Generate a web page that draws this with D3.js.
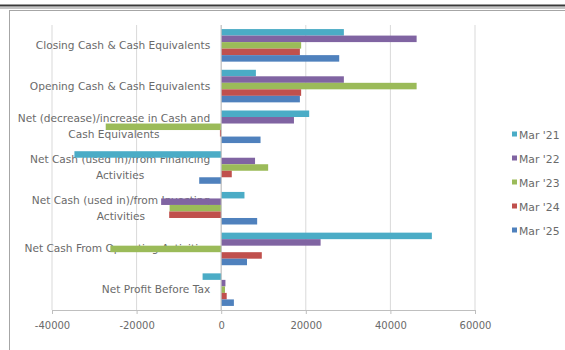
<!DOCTYPE html>
<html>
<head>
<meta charset="utf-8">
<script src="https://cdn.jsdelivr.net/npm/d3@7"></script>
<style>
  body { margin: 0; background: #fff; }
  text { font-family: "DejaVu Sans", "Liberation Sans", Arial, sans-serif; }
</style>
</head>
<body>
<svg id="chart"></svg>
<script>
// categories, top to bottom as drawn
var categories = [
  'Closing Cash & Cash Equivalents',
  'Opening Cash & Cash Equivalents',
  'Net (decrease)/increase in Cash and|Cash Equivalents',
  'Net Cash (used in)/from Financing|Activities',
  'Net Cash (used in)/from Investing|Activities',
  'Net Cash From Operating Activities',
  'Net Profit Before Tax'
]
var seriesNames = ["Mar '21", "Mar '22", "Mar '23", "Mar '24", "Mar '25"]
var seriesColors = ['#4bacc6', '#8064a2', '#9bbb59', '#c0504d', '#4f81bd']

// values per series, same order as categories
var mar21 = [29000, 8200, 20800, -34700, 5500, 49800, -4400]
var mar22 = [46200, 29000, 17200, 8000, -14200, 23500, 1000]
var mar23 = [18900, 46200, -27300, 11100, -12200, -26200, 900]
var mar24 = [18600, 18900, -300, 2500, -12300, 9600, 1300]
var mar25 = [27900, 18600, 9300, -5200, 8500, 6100, 3000]
var seriesValues = [mar21, mar22, mar23, mar24, mar25]

var xTicks = [-40000, -20000, 0, 20000, 40000, 60000]

var W = 565, H = 350
var margin = {top: 25, right: 90, bottom: 40, left: 52},
   width = 475 - margin.left,
   height = 310 - margin.top

var svg = d3.select('#chart').attr('width', W).attr('height', H)

// sheet line + chart frame
svg.append('line').attr('x1', 0).attr('x2', W).attr('y1', 5.5).attr('y2', 5.5)
  .attr('stroke', '#3a3a3a').attr('stroke-width', 2)
svg.append('line').attr('x1', 0).attr('x2', W).attr('y1', 8).attr('y2', 8)
  .attr('stroke', '#c4c4c4').attr('stroke-width', 2)
svg.append('rect').attr('x', 9.5).attr('y', 10.5).attr('width', 560).attr('height', 350)
  .attr('fill', '#fff').attr('stroke', '#a6a6a6')

var g = svg.append('g').attr('transform', 'translate(' + margin.left + ',' + margin.top + ')')

var x = d3.scaleLinear().domain([-40000, 60000]).range([0, width])

var y0 = d3.scaleBand().domain(categories).range([0, height])
  .paddingInner(0.2).paddingOuter(0.1)

var y1 = d3.scaleBand().domain(seriesNames).range([0, y0.bandwidth()])

// gridlines
g.selectAll('.grid').data(xTicks).enter().append('line')
  .attr('x1', d => x(d)).attr('x2', d => x(d))
  .attr('y1', 0).attr('y2', height)
  .attr('stroke', '#d9d9d9')

// category labels (drawn under the bars)
var labels = g.selectAll('.cat').data(categories).enter().append('text')
  .attr('fill', '#6a6a6a').attr('font-size', '10.6px')
  .each(function(d) {
    var lines = d.split('|')
    var t = d3.select(this)
    var cy = y0(d) + y0.bandwidth() / 2
    var lh = 16
    lines.forEach((l, i) => {
      t.append('tspan').text(l)
        .attr('y', cy + (i - (lines.length - 1) / 2) * lh + 3.5)
    })
  })
labels.each(function() {
  var t = d3.select(this)
  var spans = t.selectAll('tspan')
  var maxW = 0
  spans.each(function() { maxW = Math.max(maxW, this.getComputedTextLength()) })
  var right = x(0) - 11
  spans.attr('text-anchor', 'middle').attr('x', right - maxW / 2)
})

// bars
seriesValues.forEach((vals, si) => {
  g.append('g').selectAll('rect').data(vals).enter().append('rect')
    .attr('x', d => x(Math.min(0, d)))
    .attr('width', d => Math.abs(x(d) - x(0)))
    .attr('y', (d, i) => y0(categories[i]) + y1(seriesNames[si]))
    .attr('height', y1.bandwidth())
    .attr('fill', seriesColors[si])
})

// vertical category axis at zero
g.append('line').attr('x1', x(0)).attr('x2', x(0)).attr('y1', 0).attr('y2', height)
  .attr('stroke', '#bfbfbf')

// bottom axis
var xAxis = g.append('g').attr('transform', 'translate(0,' + height + ')')
  .call(d3.axisBottom(x).tickValues(xTicks).tickSize(4).tickPadding(8).tickFormat(d => String(d)))
xAxis.select('.domain').attr('stroke', '#bfbfbf')
xAxis.selectAll('.tick line').attr('stroke', '#bfbfbf')
xAxis.selectAll('text').attr('fill', '#6a6a6a').attr('font-size', '10px')
  .style('font-family', '"DejaVu Sans", "Liberation Sans", Arial, sans-serif')

// legend
var legend = svg.append('g').selectAll('g').data(seriesNames).enter().append('g')
  .attr('transform', (d, i) => 'translate(512,' + (135 + i * 24) + ')')
legend.append('rect').attr('x', 0).attr('y', -3.5).attr('width', 5).attr('height', 5)
  .attr('fill', (d, i) => seriesColors[i])
legend.append('text').attr('x', 7).attr('y', 3.5).attr('font-size', '10.8px')
  .attr('fill', '#6a6a6a').text(d => d)
</script>
</body>
</html>
